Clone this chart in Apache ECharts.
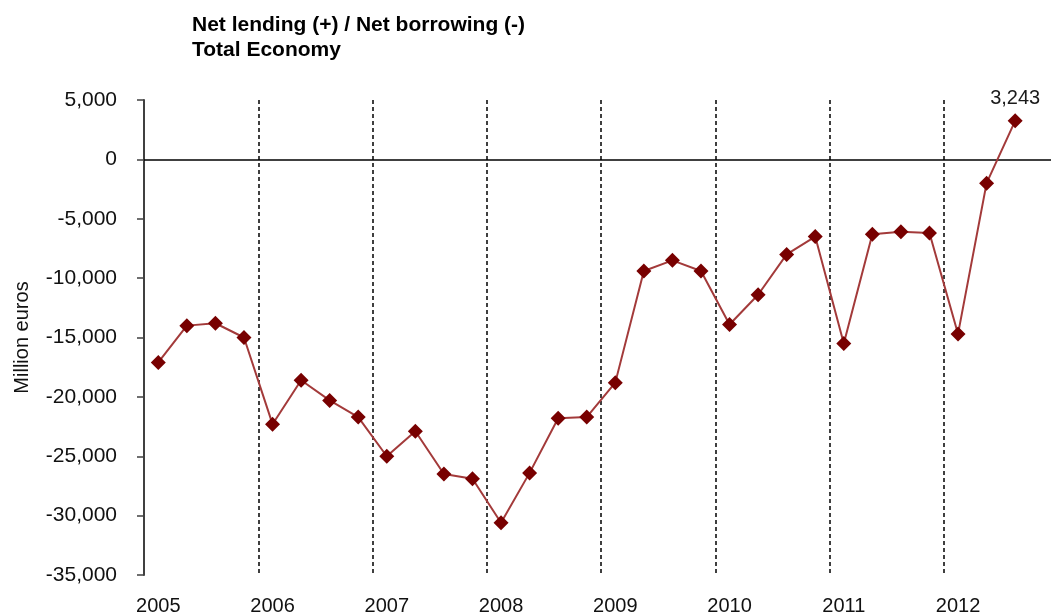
<!DOCTYPE html>
<html>
<head>
<meta charset="utf-8">
<script src="https://cdn.jsdelivr.net/npm/echarts@6/dist/echarts.min.js"></script>
<style>
  html, body { margin: 0; padding: 0; background: #fff; }
  #chart { width: 1051px; height: 616px; }
</style>
</head>
<body>
<div id="chart"></div>
<script>
// Quarterly net lending / net borrowing of the total economy, million euros
const years = ['2005', '2006', '2007', '2008', '2009', '2010', '2011', '2012'];
const quarters = ['Q1', 'Q2', 'Q3', 'Q4'];
const netLending = [
  -17100, -14000, -13800, -15000,   // 2005
  -22300, -18600, -20300, -21700,   // 2006
  -25000, -22900, -26500, -26900,   // 2007
  -30600, -26400, -21800, -21700,   // 2008
  -18800, -9400, -8500, -9400,      // 2009
  -13900, -11400, -8000, -6500,     // 2010
  -15500, -6300, -6100, -6200,      // 2011
  -14700, -2000, 3243, null         // 2012
];
const yTicks = { min: -35000, max: 5000, step: 5000 };

const categories = [];
years.forEach(y => quarters.forEach(q => categories.push(y + ' ' + q)));

const fmt = v => Number(v).toLocaleString('en-US');
const lastIdx = netLending.reduce((acc, v, i) => (v !== null ? i : acc), 0);

const seriesData = netLending.map((v, i) => {
  if (i !== lastIdx) return v;
  return {
    value: v,
    label: {
      show: true,
      position: 'top',
      distance: 5,
      formatter: p => fmt(p.value),
      fontFamily: 'Liberation Sans, Arial, sans-serif',
      fontSize: 20,
      color: '#1a1a1a'
    }
  };
});

const chart = echarts.init(document.getElementById('chart'), null, { renderer: 'canvas' });
chart.setOption({
  animation: false,
  backgroundColor: '#ffffff',
  textStyle: { fontFamily: 'Liberation Sans, Arial, sans-serif' },
  title: {
    text: 'Net lending (+) / Net borrowing (-)\nTotal Economy',
    left: 187,
    top: 8,
    textStyle: {
      fontFamily: 'Liberation Sans, Arial, sans-serif',
      fontSize: 21,
      fontWeight: 'bold',
      lineHeight: 25,
      color: '#000'
    }
  },
  grid: {
    left: 144, top: 100, width: 914, height: 475,
    containLabel: false,
    outerBoundsMode: 'none'
  },
  xAxis: {
    type: 'category',
    data: categories,
    boundaryGap: true,
    axisLine: { show: false },
    axisTick: { show: false },
    axisLabel: {
      interval: 3,
      margin: 21,
      formatter: v => v.slice(0, 4),
      fontFamily: 'Liberation Sans Narrow, Liberation Sans, Arial, sans-serif',
      fontSize: 20,
      color: '#111'
    },
    splitLine: {
      show: true,
      interval: 3,
      lineStyle: { color: '#000', width: 1.5, type: [4, 3] }
    }
  },
  yAxis: {
    type: 'value',
    min: yTicks.min,
    max: yTicks.max,
    interval: yTicks.step,
    name: 'Million euros',
    nameLocation: 'middle',
    nameRotate: 90,
    nameGap: 112,
    nameTextStyle: {
      fontFamily: 'Liberation Sans, Arial, sans-serif',
      fontSize: 20,
      color: '#111'
    },
    axisLine: { show: true, lineStyle: { color: '#404040', width: 2 } },
    axisTick: { show: true, inside: false, length: 7, lineStyle: { color: '#404040', width: 1.5 } },
    axisLabel: {
      margin: 27,
      formatter: v => fmt(v),
      fontFamily: 'Liberation Sans, Arial, sans-serif',
      fontSize: 21,
      color: '#111'
    },
    splitLine: { show: false }
  },
  series: [{
    name: 'Net lending / borrowing',
    type: 'line',
    data: seriesData,
    symbol: 'diamond',
    symbolSize: 15,
    showAllSymbol: true,
    connectNulls: false,
    itemStyle: { color: '#780000' },
    lineStyle: { color: '#a33a3a', width: 2 },
    z: 3,
    markLine: {
      silent: true,
      symbol: ['none', 'none'],
      label: { show: false },
      lineStyle: { color: '#000', width: 1.5, type: 'solid' },
      data: [{ yAxis: 0 }],
      z: 2
    }
  }]
});
</script>
</body>
</html>
